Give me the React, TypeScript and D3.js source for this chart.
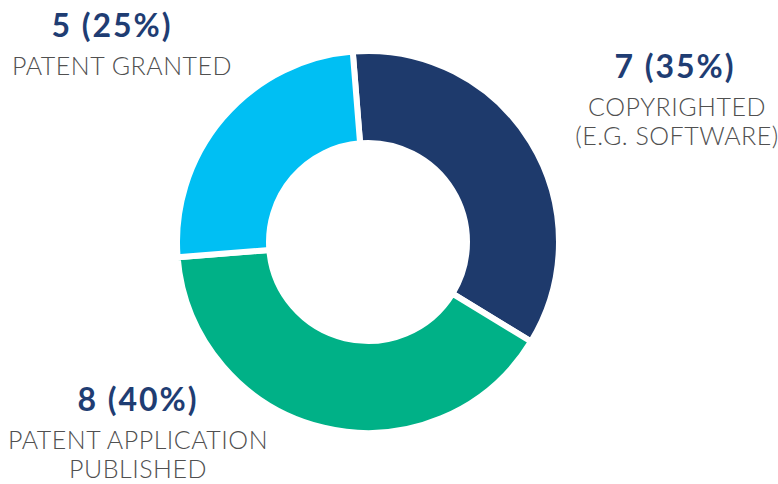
import React from "react";
import * as d3 from "d3";

const categories = ["COPYRIGHTED|(E.G. SOFTWARE)", "PATENT APPLICATION|PUBLISHED", "PATENT GRANTED"];
const values = [7, 8, 5];
const colors = ["#1e3a6c", "#00b187", "#00bff3"];
const labelPos = [
  { x: 677, bx: 675, y: 78 },
  { x: 138, bx: 138, y: 411 },
  { x: 122, bx: 112, y: 37 },
];

const W = 778;
const H = 484;
const cx = 368;
const cy = 242;
const outerR = 191;
const innerR = 99;
const startRad = -0.08;

export default function App() {
  const total = d3.sum(values);
  const pie = d3
    .pie<number>()
    .sort(null)
    .startAngle(startRad)
    .endAngle(startRad + 2 * Math.PI);
  const arcs = pie(values);
  const arc = d3.arc<d3.PieArcDatum<number>>().innerRadius(innerR).outerRadius(outerR);
  const fmt = d3.format(".0%");

  return (
    <svg
      width={W}
      height={H}
      style={{ position: "absolute", left: 0, top: 0 }}
      fontFamily="Lato, 'Open Sans', sans-serif"
    >
      <rect width={W} height={H} fill="#fff" />
      <g transform={`translate(${cx},${cy})`}>
        {arcs.map((a, i) => (
          <path key={i} d={arc(a) || ""} fill={colors[i]} stroke="#fff" strokeWidth={6} strokeLinejoin="miter" />
        ))}
      </g>
      {categories.map((c, i) => {
        const lines = c.split("|");
        const p = labelPos[i];
        return (
          <g key={i}>
            <text
              x={p.bx}
              y={p.y}
              textAnchor="middle"
              fontSize={32}
              fontWeight={700}
              letterSpacing={2}
              fill="#1f3d73"
            >
              {`${values[i]} (${fmt(values[i] / total)})`}
            </text>
            {lines.map((l, j) => (
              <text
                key={j}
                x={p.x}
                y={p.y + 38 + j * 29}
                textAnchor="middle"
                fontSize={25}
                fontWeight={300}
                letterSpacing={0.5}
                fill="#505050"
              >
                {l}
              </text>
            ))}
          </g>
        );
      })}
    </svg>
  );
}
